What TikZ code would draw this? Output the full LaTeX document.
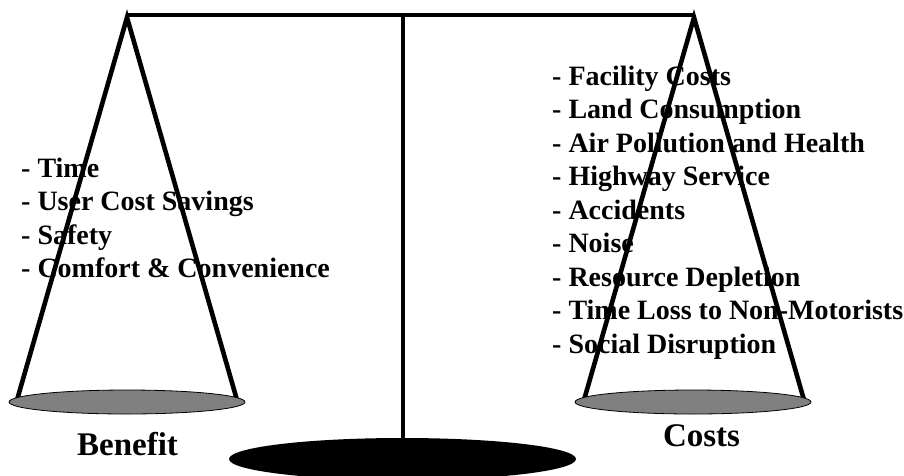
\documentclass[tikz,border=0pt]{standalone}
\usepackage{fontspec}
\setmainfont{Liberation Serif}
\usetikzlibrary{shapes.geometric}
\definecolor{pangray}{RGB}{128,128,128}

\begin{document}
\begin{tikzpicture}[x=1pt,y=-1pt,
        rope/.style={line width=4.6pt, line join=miter},
        pan/.style={ellipse, draw=black, line width=0.8pt, fill=pangray, minimum width=236pt, minimum height=24pt, inner sep=0pt},
        item/.style={anchor=base west, inner sep=0pt, font=\fontsize{28}{34}\selectfont\bfseries},
        title/.style={anchor=base, inner sep=0pt, font=\fontsize{33}{40}\selectfont\bfseries}]
    \useasboundingbox (0,0) rectangle (904,475);
    \clip (0,0) rectangle (904,475);
    % stand
    \node[ellipse, fill=black, minimum width=347pt, minimum height=42pt, inner sep=0pt] (base) at (402.5,459) {};
    \coordinate (pivot) at (402.5,15.3);
    \draw[line width=4pt] (pivot) -- (base.north);
    \coordinate (leftapex) at (127,17.5);
    \coordinate (rightapex) at (694,17.5);
    \draw[line width=4.2pt] (127,15.3) -- (694,15.3);
    % lists
    \foreach \txt [count=\i from 0] in {Time, User Cost Savings, Safety, Comfort \& Convenience}
        \node[item] (benefit\i) at (21,177+33.55*\i) {- \txt};
    \foreach \txt [count=\i from 0] in {Facility Costs, Land Consumption, Air Pollution and Health, Highway Service, Accidents, Noise, Resource Depletion, Time Loss to Non-Motorists, Social Disruption}
        \node[item] (cost\i) at (552,85+33.55*\i) {- \txt};
    % ropes and pans
    \coordinate (leftrope1) at (17,400);
    \coordinate (leftrope2) at (237,400);
    \coordinate (rightrope1) at (584,400);
    \coordinate (rightrope2) at (804,400);
    \draw[rope] (leftrope1) -- (leftapex) -- (leftrope2);
    \draw[rope] (rightrope1) -- (rightapex) -- (rightrope2);
    \node[pan] (leftpan) at (127,402) {};
    \node[pan] (rightpan) at (693,402) {};
    \node[title] (benefitlabel) at (127.5,455) {Benefit};
    \node[title] (costslabel) at (701.5,446) {Costs};
\end{tikzpicture}
\end{document}
